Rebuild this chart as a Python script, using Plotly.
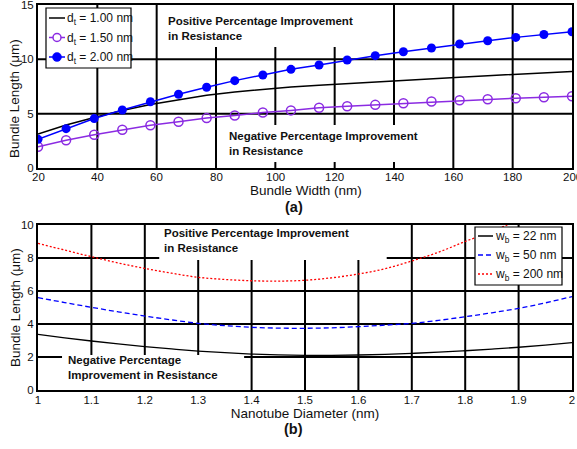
import plotly.graph_objects as go

# ---------------- data (a) ----------------
width_nm = [20.0, 29.47, 38.95, 48.42, 57.89, 67.37, 76.84, 86.32, 95.79, 105.26,
            114.74, 124.21, 133.68, 143.16, 152.63, 162.11, 171.58, 181.05, 190.53, 200.0]
len_dt100 = [3.13, 3.96, 4.65, 5.30, 5.85, 6.30, 6.70, 7.00, 7.25, 7.45,
             7.62, 7.78, 7.93, 8.08, 8.22, 8.36, 8.50, 8.62, 8.74, 8.87]
len_dt150 = [1.95, 2.55, 3.06, 3.52, 3.94, 4.25, 4.59, 4.83, 5.11, 5.30,
             5.54, 5.69, 5.81, 5.96, 6.12, 6.24, 6.33, 6.42, 6.51, 6.61]
len_dt200 = [2.64, 3.62, 4.55, 5.34, 6.10, 6.79, 7.43, 8.04, 8.56, 9.08,
             9.48, 9.94, 10.34, 10.70, 11.04, 11.41, 11.71, 12.02, 12.29, 12.54]
legend_a = ["d<sub>t</sub> = 1.00 nm", "d<sub>t</sub> = 1.50 nm", "d<sub>t</sub> = 2.00 nm"]
xticks_a = [20, 40, 60, 80, 100, 120, 140, 160, 180, 200]
yticks_a = [0, 5, 10, 15]

# ---------------- data (b) ----------------
diam_nm = [1.0, 1.05, 1.1, 1.15, 1.2, 1.25, 1.3, 1.35, 1.4, 1.45, 1.5,
           1.55, 1.6, 1.65, 1.7, 1.75, 1.8, 1.85, 1.9, 1.95, 2.0]
len_wb22 = [3.37, 3.16, 2.97, 2.79, 2.63, 2.49, 2.36, 2.26, 2.18, 2.13, 2.10,
            2.10, 2.12, 2.16, 2.22, 2.29, 2.38, 2.48, 2.59, 2.72, 2.87]
len_wb50 = [5.60, 5.30, 5.01, 4.74, 4.48, 4.25, 4.04, 3.90, 3.80, 3.75, 3.74,
            3.77, 3.84, 3.93, 4.04, 4.22, 4.44, 4.68, 4.95, 5.28, 5.66]
len_wb200 = [8.89, 8.48, 8.08, 7.70, 7.37, 7.08, 6.83, 6.70, 6.62, 6.60, 6.65,
             6.80, 7.03, 7.35, 7.82, 8.35, 9.00, 9.62, 10.30, 11.00, 11.80]
legend_b = ["w<sub>b</sub> = 22 nm", "w<sub>b</sub> = 50 nm", "w<sub>b</sub> = 200 nm"]
xticks_b = [1.0, 1.1, 1.2, 1.3, 1.4, 1.5, 1.6, 1.7, 1.8, 1.9, 2.0]
xticklabels_b = ["1", "1.1", "1.2", "1.3", "1.4", "1.5", "1.6", "1.7", "1.8", "1.9", "2"]
yticks_b = [0, 2, 4, 6, 8, 10]

FONT = "Liberation Sans, Arial, sans-serif"
PURPLE = "#8B2BE2"
BLUE = "#0000FF"
RED = "#FF0000"
DASH = "5px,3px"
DOT = "2px,2px"

fig = go.Figure()

fig.add_trace(go.Scatter(x=width_nm, y=len_dt100, mode="lines", name=legend_a[0],
                         line=dict(color="black", width=1.5), xaxis="x", yaxis="y"))
fig.add_trace(go.Scatter(x=width_nm, y=len_dt150, mode="lines+markers", name=legend_a[1],
                         line=dict(color=PURPLE, width=1.5),
                         marker=dict(symbol="circle-open", size=9, color=PURPLE, line=dict(width=1.5)),
                         xaxis="x", yaxis="y"))
fig.add_trace(go.Scatter(x=width_nm, y=len_dt200, mode="lines+markers", name=legend_a[2],
                         line=dict(color=BLUE, width=1.5),
                         marker=dict(symbol="circle", size=9, color=BLUE),
                         xaxis="x", yaxis="y"))

fig.add_trace(go.Scatter(x=diam_nm, y=len_wb22, mode="lines", name=legend_b[0],
                         line=dict(color="black", width=1.3, shape="spline"),
                         xaxis="x2", yaxis="y2"))
fig.add_trace(go.Scatter(x=diam_nm, y=len_wb50, mode="lines", name=legend_b[1],
                         line=dict(color=BLUE, width=1.3, dash=DASH, shape="spline"),
                         xaxis="x2", yaxis="y2"))
fig.add_trace(go.Scatter(x=diam_nm, y=len_wb200, mode="lines", name=legend_b[2],
                         line=dict(color=RED, width=1.3, dash=DOT, shape="spline"),
                         xaxis="x2", yaxis="y2"))

W, H = 577, 449
xdom = [38 / W, 572 / W]
ydom_a = [1 - 168 / H, 1 - 5 / H]
ydom_b = [1 - 390 / H, 1 - 225 / H]

tick_font = dict(family=FONT, size=11.5, color="#111")
ax_common = dict(showline=True, mirror=True, linecolor="black", linewidth=2,
                 showgrid=False, zeroline=False,
                 ticks="", ticklabeloverflow="allow", tickfont=tick_font)
title_font = dict(family=FONT, size=13.5, color="#111")

fig.update_layout(
    width=W, height=H,
    margin=dict(l=0, r=0, t=0, b=0, autoexpand=False),
    paper_bgcolor="white", plot_bgcolor="white",
    font=dict(family=FONT, color="#111"),
    showlegend=False,
    xaxis=dict(domain=xdom, anchor="y", range=[20, 200], tickmode="array", tickvals=xticks_a,
               showticklabels=False, **ax_common),
    yaxis=dict(domain=ydom_a, anchor="x", range=[0, 15], tickmode="array", tickvals=yticks_a,
               **ax_common),
    xaxis2=dict(domain=xdom, anchor="y2", range=[1, 2], tickmode="array", tickvals=xticks_b,
                ticktext=xticklabels_b, ticklabelstandoff=-2,
                title=dict(text="Nanotube Diameter (nm)", font=title_font, standoff=0), **ax_common),
    yaxis2=dict(domain=ydom_b, anchor="x2", range=[0, 10], tickmode="array", tickvals=yticks_b,
                **ax_common),
)


def px(x):
    return x / W


def py(y):
    return 1 - y / H


# axis titles and panel labels first
labels = [
    (306, 190, "Bundle Width (nm)", title_font, 0),
    (294, 207, "<b>(a)</b>", dict(family=FONT, size=14.5, color="#111"), 0),
    (293, 429, "<b>(b)</b>", dict(family=FONT, size=14.5, color="#111"), 0),
    (15, 99, "Bundle Length (\u03bcm)", title_font, -90),
    (15, 308, "Bundle Length (\u03bcm)", title_font, -90),
]
for x, y, t, f, ang in labels:
    fig.add_annotation(xref="paper", yref="paper", x=px(x), y=py(y), text=t,
                       showarrow=False, xanchor="center", yanchor="middle",
                       font=f, textangle=ang, bgcolor="rgba(0,0,0,0)")

# tick labels of the top x axis (as text placed on the x scale), drawn after the title
for v in xticks_a:
    fig.add_annotation(xref="x", yref="paper", x=v, y=py(177), text=str(v), showarrow=False,
                       xanchor="center", yanchor="middle", font=tick_font,
                       bgcolor="rgba(0,0,0,0)")

# grid lines (drawn as shapes below the data)
GRID = dict(color="black", width=2)
for xr, yr, xt, yt in [("x", "y", xticks_a, yticks_a), ("x2", "y2", xticks_b, yticks_b)]:
    for v in xt[1:-1]:
        fig.add_shape(type="line", xref=xr, yref=yr + " domain", x0=v, x1=v, y0=0, y1=1,
                      line=GRID, layer="below")
    for v in yt[1:-1]:
        fig.add_shape(type="line", xref=xr + " domain", yref=yr, x0=0, x1=1, y0=v, y1=v,
                      line=GRID, layer="below")

# white boxes behind the in-plot notes (hide the grid there)
boxes = [
    ("x", "y", 61.1, 135.3, 11.13, 15),
    ("x", "y", 81.3, 152.1, 0.55, 3.96),
    ("x2", "y2", 1.227, 1.653, 7.88, 10),
    ("x2", "y2", 1.045, 1.386, 0, 2.12),
]
for xr, yr, x0, x1, y0, y1 in boxes:
    fig.add_shape(type="rect", xref=xr, yref=yr, x0=x0, x1=x1, y0=y0, y1=y1,
                  fillcolor="white", line=dict(width=0), layer="below")

note_font = dict(family=FONT, size=11.5, color="#111")
notes = [
    ("x", "y", 63.3, 12.8, "<b>Positive Percentage Improvement<br>in Resistance</b>"),
    ("x", "y", 83.8, 2.27, "<b>Negative Percentage Improvement<br>in Resistance</b>"),
    ("x2", "y2", 1.232, 9.05, "<b>Positive Percentage Improvement<br>in Resistance</b>"),
    ("x2", "y2", 1.052, 1.35, "<b>Negative Percentage<br>Improvement in Resistance</b>"),
]
for xr, yr, x, y, t in notes:
    fig.add_annotation(xref=xr, yref=yr, x=x, y=y, text=t, showarrow=False,
                       xanchor="left", yanchor="middle", align="left", font=note_font)


def legend_box(x0, x1, y0, y1):
    fig.add_shape(type="rect", xref="paper", yref="paper",
                  x0=px(x0), x1=px(x1), y0=py(y1), y1=py(y0),
                  fillcolor="white", line=dict(color="black", width=1.2), layer="above")


leg_font = dict(family=FONT, size=12, color="#111")

# legend (a)
legend_box(46, 131, 8, 68)
styles_a = [("black", None), (PURPLE, "open"), (BLUE, "filled")]
for i, (label, (col, mk)) in enumerate(zip(legend_a, styles_a)):
    yc = 18 + i * 19.5
    fig.add_shape(type="line", xref="paper", yref="paper", x0=px(49), x1=px(65),
                  y0=py(yc), y1=py(yc), line=dict(color=col, width=1.5), layer="above")
    if mk == "open":
        fig.add_shape(type="circle", xref="paper", yref="paper", x0=px(53), x1=px(61),
                      y0=py(yc + 4), y1=py(yc - 4), fillcolor="white",
                      line=dict(color=col, width=1.5), layer="above")
    elif mk == "filled":
        fig.add_shape(type="circle", xref="paper", yref="paper", x0=px(52.5), x1=px(61.5),
                      y0=py(yc + 4.5), y1=py(yc - 4.5), fillcolor=col,
                      line=dict(color=col, width=0.5), layer="above")
    fig.add_annotation(xref="paper", yref="paper", x=px(65), y=py(yc + 1), text=label,
                       showarrow=False, xanchor="left", yanchor="middle", font=leg_font)

# legend (b)
legend_box(475, 562, 227, 285)
styles_b = [("black", "solid"), (BLUE, DASH), (RED, DOT)]
for i, (label, (col, dash)) in enumerate(zip(legend_b, styles_b)):
    yc = 236 + i * 19
    fig.add_shape(type="line", xref="paper", yref="paper", x0=px(478), x1=px(493),
                  y0=py(yc), y1=py(yc), line=dict(color=col, width=1.5, dash=dash), layer="above")
    fig.add_annotation(xref="paper", yref="paper", x=px(493), y=py(yc + 1), text=label,
                       showarrow=False, xanchor="left", yanchor="middle", font=leg_font)

fig.write_html("out.html")
